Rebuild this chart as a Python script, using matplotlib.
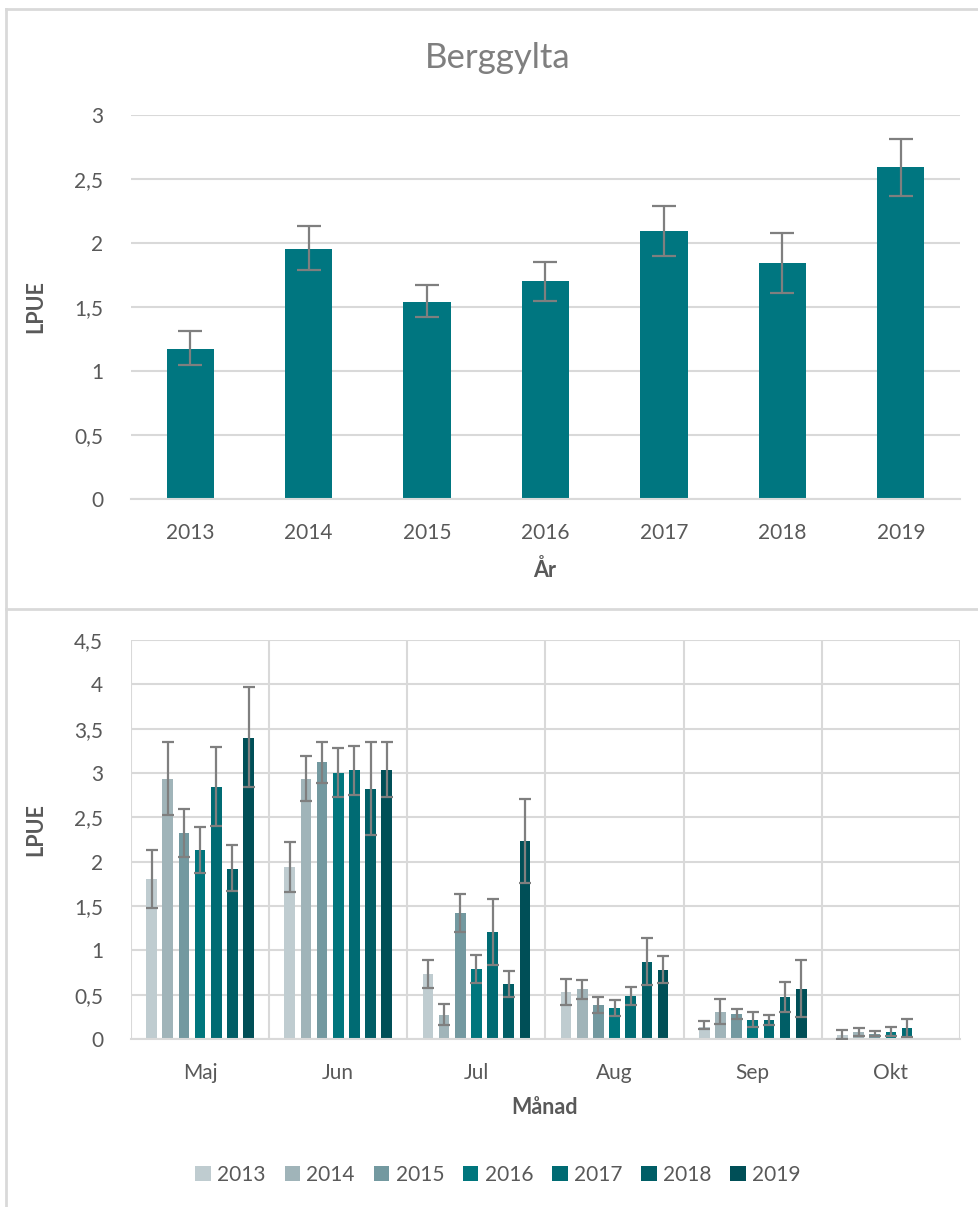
import numpy as np
import matplotlib.pyplot as plt
from matplotlib.lines import Line2D
from matplotlib.patches import Patch
from matplotlib.ticker import FuncFormatter, MultipleLocator

# --- data: LPUE per year ---
years = ['2013', '2014', '2015', '2016', '2017', '2018', '2019']
lpue_year = [1.17, 1.95, 1.54, 1.70, 2.09, 1.84, 2.59]
year_lo = [1.05, 1.79, 1.42, 1.55, 1.90, 1.61, 2.37]
year_hi = [1.31, 2.13, 1.67, 1.85, 2.29, 2.08, 2.81]

# --- data: LPUE per month and year ---
months = ['Maj', 'Jun', 'Jul', 'Aug', 'Sep', 'Okt']
lpue_month = {
    '2013': [1.80, 1.94, 0.73, 0.53, 0.14, 0.05],
    '2014': [2.93, 2.93, 0.27, 0.56, 0.31, 0.08],
    '2015': [2.32, 3.12, 1.42, 0.38, 0.28, 0.06],
    '2016': [2.13, 3.00, 0.79, 0.35, 0.21, 0.08],
    '2017': [2.84, 3.03, 1.21, 0.48, 0.21, 0.12],
    '2018': [1.92, 2.82, 0.62, 0.87, 0.47, 0.01],
    '2019': [3.40, 3.03, 2.23, 0.78, 0.56, 0.01],
}
month_lo = {
    '2013': [1.48, 1.66, 0.58, 0.38, 0.11, 0.00],
    '2014': [2.53, 2.68, 0.16, 0.45, 0.17, 0.03],
    '2015': [2.05, 2.89, 1.21, 0.29, 0.23, 0.03],
    '2016': [1.87, 2.73, 0.63, 0.26, 0.13, 0.03],
    '2017': [2.40, 2.75, 0.84, 0.38, 0.16, 0.02],
    '2018': [1.67, 2.30, 0.47, 0.61, 0.30, np.nan],
    '2019': [2.84, 2.73, 1.76, 0.63, 0.25, np.nan],
}
month_hi = {
    '2013': [2.13, 2.22, 0.89, 0.68, 0.20, 0.10],
    '2014': [3.35, 3.19, 0.39, 0.67, 0.45, 0.12],
    '2015': [2.59, 3.35, 1.64, 0.47, 0.34, 0.09],
    '2016': [2.39, 3.28, 0.95, 0.44, 0.30, 0.13],
    '2017': [3.29, 3.31, 1.58, 0.59, 0.27, 0.22],
    '2018': [2.19, 3.35, 0.77, 1.14, 0.64, np.nan],
    '2019': [3.97, 3.35, 2.71, 0.94, 0.89, np.nan],
}
year_colors = ['#BFCCD0', '#A0B4B9', '#7399A0', '#00767D', '#006B73', '#005E66', '#004F57']

plt.rcParams['font.family'] = ['Lato', 'DejaVu Sans']
TXT = '#595959'
GRID = '#D9D9D9'
ERR = '#7F7F7F'

W, H = 979, 1207
fig = plt.figure(figsize=(W / 100, H / 100), dpi=100)


def px_axes(x0, y0, x1, y1):
    return fig.add_axes([x0 / W, 1 - y1 / H, (x1 - x0) / W, (y1 - y0) / H])


def comma(v, _):
    s = f'{v:g}'
    return s.replace('.', ',')


def style(ax):
    for s in ['top', 'right', 'left']:
        ax.spines[s].set_visible(False)
    ax.spines['bottom'].set_color(GRID)
    ax.spines['bottom'].set_linewidth(1.5)
    ax.yaxis.grid(True, color=GRID, linewidth=1.5)
    ax.set_axisbelow(True)
    ax.tick_params(axis='both', length=0, labelsize=15, colors=TXT)
    ax.tick_params(axis='y', pad=20)
    ax.tick_params(axis='x', pad=17)
    ax.yaxis.set_major_formatter(FuncFormatter(comma))


# ---- top chart ----
ax1 = px_axes(131, 115, 960, 499)
x = np.arange(len(years))
ax1.bar(x, lpue_year, width=0.4, color='#007680', zorder=2)
lo = np.array(lpue_year) - np.array(year_lo)
hi = np.array(year_hi) - np.array(lpue_year)
ax1.errorbar(x, lpue_year, yerr=[lo, hi], fmt='none', ecolor=ERR,
             elinewidth=1.6, capsize=8.5, capthick=1.6, zorder=3)
ax1.set_xlim(-0.5, len(years) - 0.5)
ax1.set_ylim(0, 3)
ax1.yaxis.set_major_locator(MultipleLocator(0.5))
ax1.set_xticks(x)
ax1.set_xticklabels(years)
style(ax1)

fig.text(498 / W, 1 - 58 / H, 'Berggylta', ha='center', va='center',
         fontsize=25, color='#7F7F7F')
fig.text(545 / W, 1 - 570 / H, 'År', ha='center', va='center',
         fontsize=15.5, fontweight='bold', color=TXT)
fig.text(36 / W, 1 - 307 / H, 'LPUE', ha='center', va='center', rotation=90,
         fontsize=15.5, fontweight='bold', color=TXT)

# ---- bottom chart ----
ax2 = px_axes(131, 640, 960, 1039)
m = np.arange(len(months))
pitch = 0.117
bw = 0.077
for i, yr in enumerate(years):
    pos = m + (i - 3) * pitch
    vals = np.array(lpue_month[yr])
    ax2.bar(pos, vals, width=bw, color=year_colors[i], zorder=2, label=yr)
    lo = vals - np.array(month_lo[yr])
    hi = np.array(month_hi[yr]) - vals
    ax2.errorbar(pos, vals, yerr=[lo, hi], fmt='none', ecolor=ERR,
                 elinewidth=1.6, capsize=4.5, capthick=1.6, zorder=3)
ax2.set_xlim(-0.5, len(months) - 0.5)
ax2.set_ylim(0, 4.5)
ax2.yaxis.set_major_locator(MultipleLocator(0.5))
ax2.set_xticks(m)
ax2.set_xticklabels(months)
ax2.set_xticks(np.arange(len(months) + 1) - 0.5, minor=True)
ax2.tick_params(axis='x', which='minor', length=0)
ax2.xaxis.grid(True, which='minor', color=GRID, linewidth=1.5)
style(ax2)

fig.text(545 / W, 1 - 1107 / H, 'Månad', ha='center', va='center',
         fontsize=15.5, fontweight='bold', color=TXT)
fig.text(36 / W, 1 - 830 / H, 'LPUE', ha='center', va='center', rotation=90,
         fontsize=15.5, fontweight='bold', color=TXT)

handles = [Patch(facecolor=c, label=y) for c, y in zip(year_colors, years)]
fig.legend(handles=handles, loc='center', bbox_to_anchor=(498 / W, 1 - 1175 / H),
           ncol=7, frameon=False, fontsize=15, handlelength=0.75, handleheight=0.75,
           handletextpad=0.3, columnspacing=0.9, labelcolor=TXT)

# ---- panel borders ----
for xs, ys in [([6, 6], [9, H]), ([6, W], [9, 9]), ([6, W], [609, 609])]:
    fig.add_artist(Line2D([v / W for v in xs], [1 - v / H for v in ys],
                          color=GRID, linewidth=2))

fig.savefig('out.png', dpi=100)
